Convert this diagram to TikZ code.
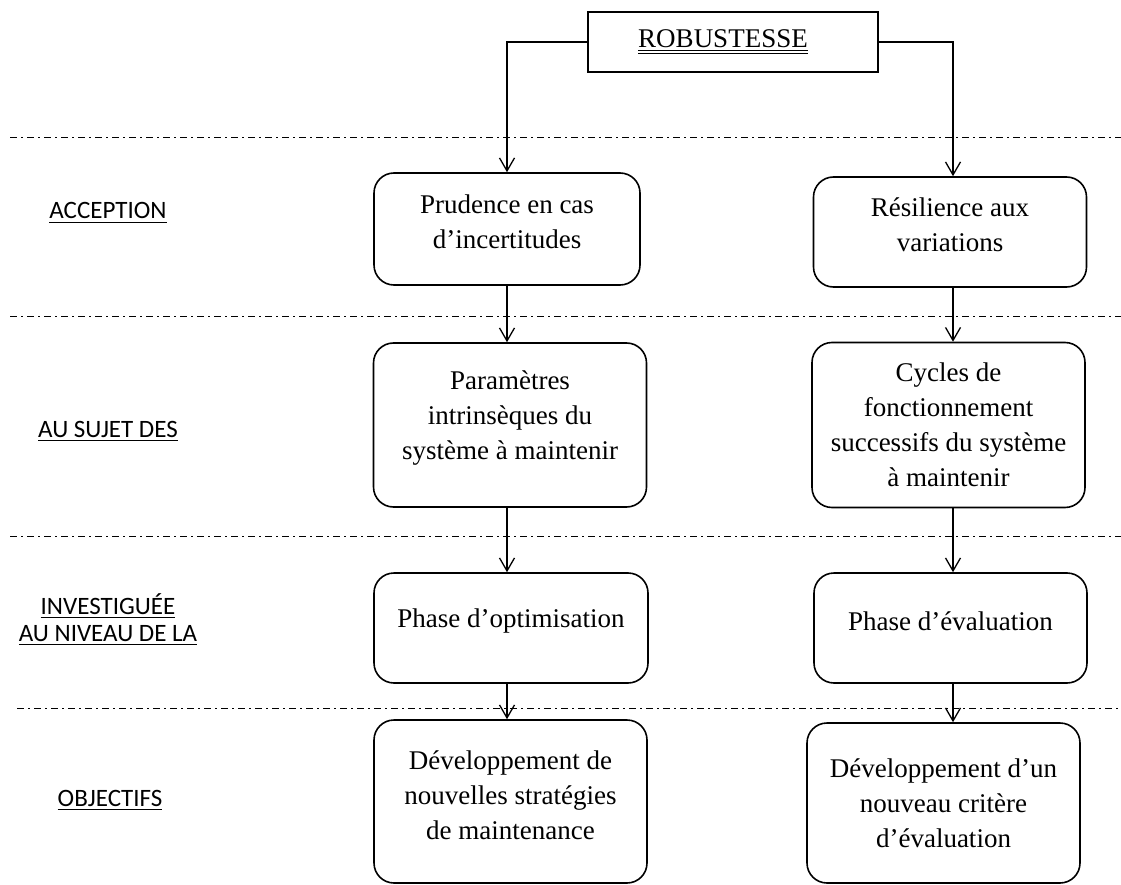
\documentclass[tikz,border=0pt]{standalone}
\usepackage{fontspec}
\setmainfont{Liberation Serif}
\newfontfamily\calib{Carlito}
\usetikzlibrary{arrows.meta}
\newsavebox\ulbox
\newcommand\myul[1]{\sbox\ulbox{#1}\rlap{\raisebox{-4pt}{\rule{\wd\ulbox}{1.3pt}}}\usebox\ulbox}
\newcommand\mydul[1]{\sbox\ulbox{#1}\rlap{\raisebox{-3pt}{\rule{\wd\ulbox}{1pt}}}\rlap{\raisebox{-6.5pt}{\rule{\wd\ulbox}{1pt}}}\usebox\ulbox}
\begin{document}
\begin{tikzpicture}[x=1pt,y=-1pt,
  box/.style={draw, rounded corners=20pt, line width=1.6pt, inner sep=0pt},
  txt/.style={align=center, font=\fontsize{27}{35}\selectfont, inner sep=0pt},
  topbox/.style={draw, line width=1.2pt, inner sep=0pt,
    font=\fontsize{27}{32}\selectfont},
  conn/.style={line width=1.3pt, -{Straight Barb[length=13pt,width=15pt,line width=1.3pt]}},
  sep/.style={line width=0.9pt, dash pattern=on 7pt off 4pt on 2pt off 4pt},
  lab/.style={font=\calib\fontsize{25}{28}\selectfont, anchor=base, inner sep=0pt}]
\useasboundingbox (0,0) rectangle (1121,885);

% separators
\draw[sep] (10,137) -- (1121,137);
\draw[sep] (10,316) -- (1121,316);
\draw[sep] (10,536) -- (1121,536);
\draw[sep] (17,708) -- (1121,708);

% top box
\node[topbox, minimum width=290pt, minimum height=60pt] (rob) at (733,42) {\mydul{ROBUSTESSE}\hspace*{20pt}};

% column coordinates
\coordinate (colL) at (507,0);
\coordinate (colR) at (953,0);

% boxes
\node[box, minimum width=266pt, minimum height=112pt] (b1l) at (507,229) {};
\node[box, minimum width=273pt, minimum height=110pt] (b1r) at (950,232) {};
\node[box, minimum width=273pt, minimum height=164pt] (b2l) at (510,425) {};
\node[box, minimum width=273pt, minimum height=165pt] (b2r) at (948.5,425) {};
\node[box, minimum width=274pt, minimum height=110pt] (b3l) at (511,628) {};
\node[box, minimum width=273pt, minimum height=110pt] (b3r) at (950.5,628) {};
\node[box, minimum width=273pt, minimum height=163pt] (b4l) at (510.5,801.5) {};
\node[box, minimum width=273pt, minimum height=160pt] (b4r) at (943.5,803) {};

% box texts
\node[txt] (t1l) at ([yshift=7pt]b1l.center) {Prudence en cas\\d’incertitudes};
\node[txt] (t1r) at ([yshift=7pt]b1r.center) {Résilience aux\\variations};
\node[txt] (t2l) at ([yshift=7pt]b2l.center) {Paramètres\\intrinsèques du\\système à maintenir};
\node[txt] (t2r) at (b2r.center) {Cycles de\\fonctionnement\\successifs du système\\à maintenir};
\node[txt] (t3l) at ([yshift=7pt]b3l.center) {Phase d’optimisation};
\node[txt] (t3r) at ([yshift=7pt]b3r.center) {Phase d’évaluation};
\node[txt] (t4l) at ([yshift=6pt]b4l.center) {Développement de\\nouvelles stratégies\\de maintenance};
\node[txt] (t4r) at (b4r.center) {Développement d’un\\nouveau critère\\d’évaluation};

% connectors
\draw[conn] (rob.west) -| (b1l.north -| colL);
\draw[conn] (rob.east) -| (b1r.north -| colR);
\draw[conn] (b1l.south -| colL) -- (b2l.north -| colL);
\draw[conn] (b2l.south -| colL) -- (b3l.north -| colL);
\draw[conn] (b3l.south -| colL) -- (b4l.north -| colL);
\draw[conn] (b1r.south -| colR) -- (b2r.north -| colR);
\draw[conn] (b2r.south -| colR) -- (b3r.north -| colR);
\draw[conn] (b3r.south -| colR) -- (b4r.north -| colR);

% left labels
\node[lab] (l1) at (108,219) {\myul{ACCEPTION}};
\node[lab] (l2) at (108,437) {\myul{AU SUJET DES}};
\node[lab] (l3a) at (108,614) {\myul{INVESTIGUÉE}};
\node[lab] (l3b) at (108,641) {\myul{AU NIVEAU DE LA}};
\node[lab] (l4) at (110,806) {\myul{OBJECTIFS}};
\end{tikzpicture}
\end{document}
